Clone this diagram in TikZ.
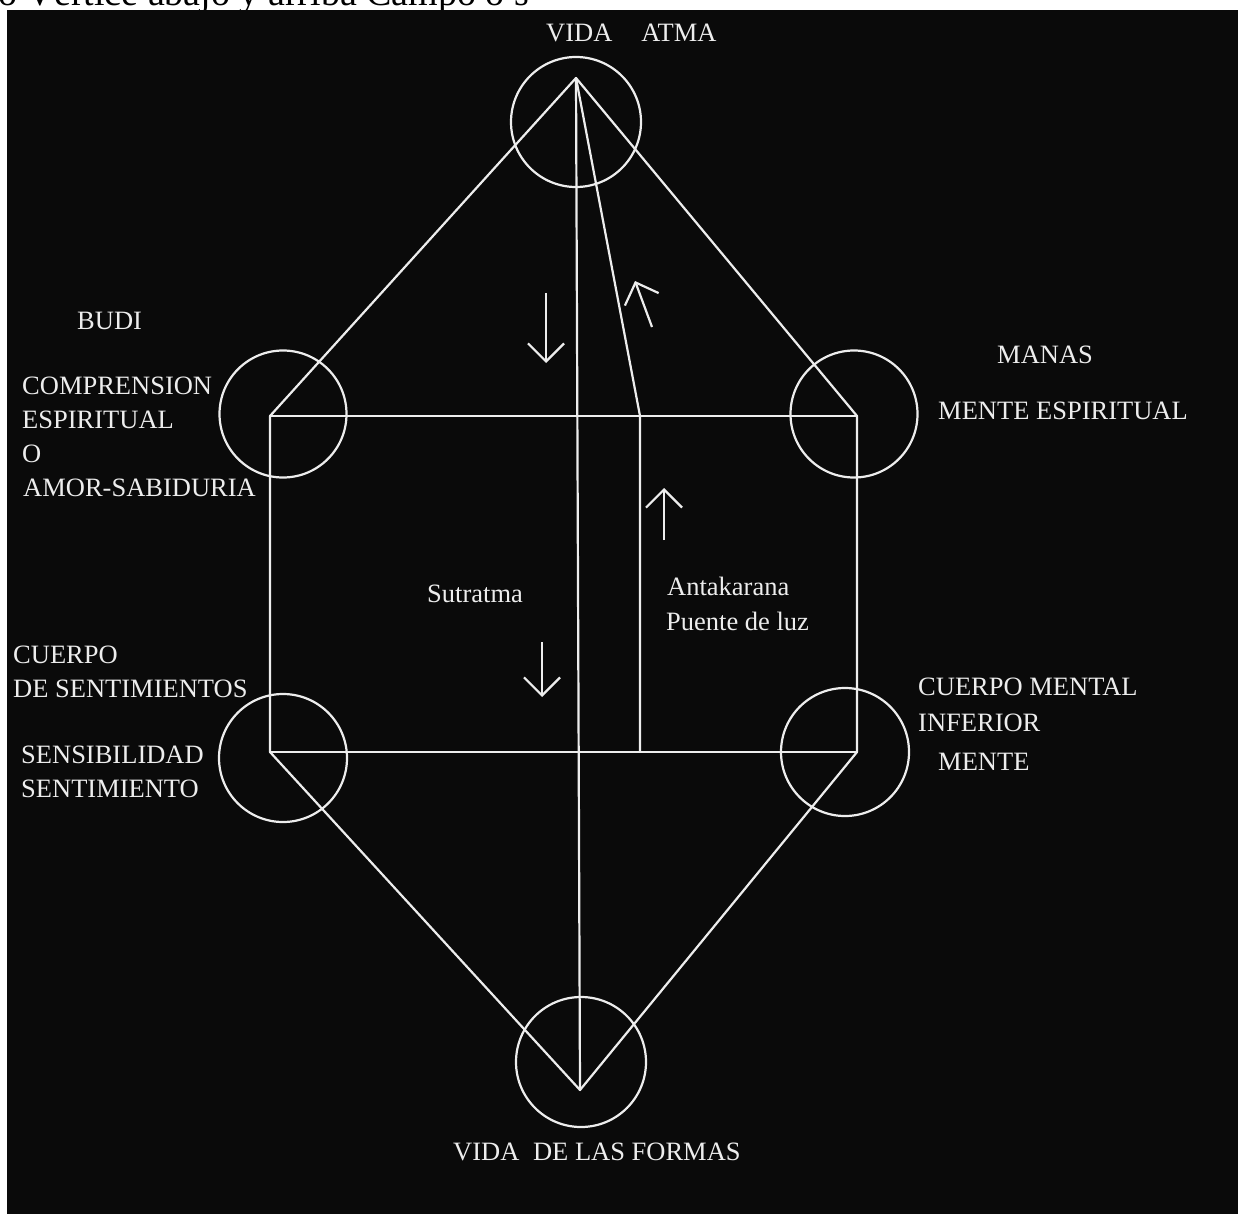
\documentclass[tikz,border=0pt]{standalone}
\usepackage{fontspec}
\setmainfont{Liberation Serif}
\usetikzlibrary{arrows.meta}
\definecolor{bg}{HTML}{0A0A0A}
\definecolor{ln}{HTML}{EDEDED}
\begin{document}
\begin{tikzpicture}[x=1pt,y=-1pt,
  lbl/.style={text=ln, font=\fontsize{26.5}{32}\selectfont, inner sep=0pt, anchor=base west},
  edge/.style={draw=ln, line width=2.2pt, line join=round},
  ring/.style={circle, draw=ln, line width=2.2pt, inner sep=0pt, minimum size=#1},
  flow/.style={draw=ln, line width=2.2pt, -{Straight Barb[length=18pt,width=36pt]}}]
\useasboundingbox (0,0) rectangle (1238,1214);
\fill[white] (0,0) rectangle (1238,1214);
\begin{scope}
  \clip (0,0) rectangle (1238,10);
  \node[anchor=base west, inner sep=0pt, font=\fontsize{38}{40}\selectfont] (head) at (-2,6) {o Vértice abajo y arriba Campo o s};
\end{scope}
\fill[bg] (7,10) rectangle (1238,1214);

% rings
\node[ring=130pt] (rtop) at (576,122) {};
\node[ring=127pt] (rbudi) at (283,414) {};
\node[ring=127pt] (rmanas) at (854,414) {};
\node[ring=128pt] (rsent) at (283,758) {};
\node[ring=128pt] (rmente) at (845,752) {};
\node[ring=130pt] (rbot) at (581,1062) {};

% vertices
\coordinate (A) at (576,78);
\coordinate (BL) at (270,416);
\coordinate (BR) at (857,416);
\coordinate (CL) at (270,752);
\coordinate (CR) at (857,752);
\coordinate (Z) at (580,1090);
\coordinate (K) at (640,416);
\coordinate (K2) at (640,752);

\draw[edge] (A) -- (BL) -- (CL) -- (Z) -- (CR) -- (BR) -- cycle;
\draw[edge] (BL) -- (BR);
\draw[edge] (CL) -- (CR);
\draw[edge] (A) -- (Z);
\draw[edge] (A) -- (K) -- (K2);

% arrows
\coordinate (a1s) at (546,293); \coordinate (a1e) at (546,363);
\coordinate (a2s) at (652,327); \coordinate (a2e) at (635,281);
\coordinate (a3s) at (664,540); \coordinate (a3e) at (664,488);
\coordinate (a4s) at (542,642); \coordinate (a4e) at (542,697);
\draw[flow] (a1s) -- (a1e);
\draw[flow] (a2s) -- (a2e);
\draw[flow] (a3s) -- (a3e);
\draw[flow] (a4s) -- (a4e);

% labels
\node[lbl] (vida) at (546,42) {VIDA\hspace{29pt}ATMA};
\node[lbl] (budi) at (77,329) {BUDI};
\node[lbl] (comp1) at (22,394) {COMPRENSION};
\node[lbl] (comp2) at (22,428) {ESPIRITUAL};
\node[lbl] (comp3) at (22,462) {O};
\node[lbl] (comp4) at (23,496) {AMOR-SABIDURIA};
\node[lbl] (manas) at (997,363) {MANAS};
\node[lbl] (mesp) at (938,419) {MENTE ESPIRITUAL};
\node[lbl] (sutra) at (427,602) {Sutratma};
\node[lbl] (anta1) at (667,595) {Antakarana};
\node[lbl] (anta2) at (666,630) {Puente de luz};
\node[lbl] (cs1) at (13,663) {CUERPO};
\node[lbl] (cs2) at (13,697) {DE SENTIMIENTOS};
\node[lbl] (ss1) at (21,763) {SENSIBILIDAD};
\node[lbl] (ss2) at (21,797) {SENTIMIENTO};
\node[lbl] (cm1) at (918,695) {CUERPO MENTAL};
\node[lbl] (cm2) at (918,731) {INFERIOR};
\node[lbl] (cm3) at (938,770) {MENTE};
\node[lbl] (forms) at (453,1160) {VIDA\hspace{7pt} DE LAS FORMAS};
\end{tikzpicture}
\end{document}
